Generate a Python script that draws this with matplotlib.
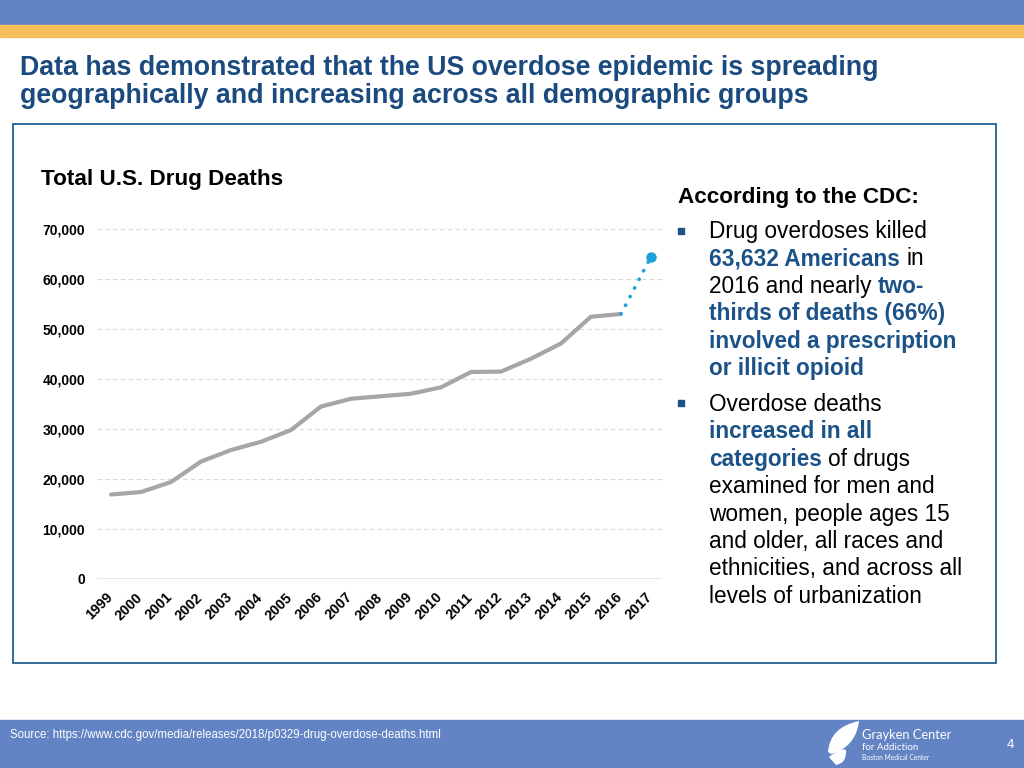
import matplotlib.pyplot as plt
from matplotlib.patches import Rectangle, PathPatch
from matplotlib.path import Path
import matplotlib.transforms as mtransforms

plt.rcParams['font.family'] = ['Liberation Sans', 'DejaVu Sans']

# data
years = list(range(1999, 2017))
deaths = [16900, 17400, 19400, 23500, 25800, 27450, 29800, 34500, 36050,
          36550, 37050, 38330, 41400, 41480, 44050, 47100, 52450, 53000]
proj_years = [2016, 2017]
proj_deaths = [53000, 64400]
all_years = list(range(1999, 2018))
yticks = [0, 10000, 20000, 30000, 40000, 50000, 60000, 70000]

W, H = 1024, 768
BAND = '#6384C4'
ORANGE = '#F6BF5B'
NAVY = '#1A4A7E'
HIGH = '#1B5288'


def fx(x):
    return x / W


def fy(y):
    return 1 - y / H


fig = plt.figure(figsize=(10.24, 7.68), dpi=100)

# header / footer bands
fig.patches.append(Rectangle((0, fy(25)), 1, 25 / H, transform=fig.transFigure,
                             color=BAND, zorder=0))
fig.patches.append(Rectangle((0, fy(37)), 1, 12 / H, transform=fig.transFigure,
                             color=ORANGE, zorder=0))
fig.patches.append(Rectangle((0, 0), 1, 48 / H, transform=fig.transFigure,
                             color=BAND, zorder=0))
# content frame
fig.patches.append(Rectangle((fx(13), fy(663)), 983 / W, 539 / H, transform=fig.transFigure,
                             fill=False, ec='#24608F', lw=1.3, zorder=1))

fig.text(fx(20), fy(75), 'Data has demonstrated that the US overdose epidemic is spreading',
         fontsize=19.3, fontweight='bold', color=NAVY, va='baseline')
fig.text(fx(20), fy(103), 'geographically and increasing across all demographic groups',
         fontsize=19.3, fontweight='bold', color=NAVY, va='baseline')

# chart
ax = fig.add_axes([fx(97), fy(579), 565 / W, 350 / H])
ax.plot(years, deaths, color='#A6A6A6', lw=3, solid_capstyle='round', zorder=3)
ax.plot(proj_years, proj_deaths, color='#1EA0DC', lw=2.6, ls=(0, (0.1, 2.6)),
        dash_capstyle='round', zorder=3)
ax.plot(proj_years[-1:], proj_deaths[-1:], 'o', color='#1EA0DC', ms=6.5, zorder=4)
ax.set_xlim(1998.53, 2017.37)
ax.set_ylim(0, 70000)
for s in ax.spines.values():
    s.set_visible(False)
for v in yticks[1:]:
    ax.axhline(v, color='#D9D9D9', lw=0.8, ls=(0, (4, 3)), zorder=1)
ax.axhline(0, color='#E3E3E3', lw=1.2, zorder=1)
ax.set_yticks(yticks)
ax.set_yticklabels(['{:,}'.format(v) for v in yticks], fontsize=10, fontweight='bold')
ax.set_xticks(all_years)
ax.set_xticklabels([str(y) for y in all_years], fontsize=10.3, fontweight='bold',
                   rotation=45, ha='right', va='top', rotation_mode='anchor')
ax.tick_params(length=0)
ax.tick_params(axis='y', pad=8.5)
ax.tick_params(axis='x', pad=8)
shift = mtransforms.ScaledTranslation(-4 / 72, 0, fig.dpi_scale_trans)
for lab in ax.get_xticklabels():
    lab.set_transform(lab.get_transform() + shift)

fig.text(fx(41), fy(180), 'Total U.S. Drug Deaths', fontsize=16.2, fontweight='bold',
         va='center', color='black')

# right-hand text
fig.text(fx(678), fy(203), 'According to the CDC:', fontsize=16.2, fontweight='bold',
         va='baseline', color='black')

renderer = fig.canvas.get_renderer()


def width_px(s, bold):
    t = fig.text(0, 0, s, fontsize=16.3, fontweight='bold' if bold else 'normal')
    w = t.get_window_extent(renderer).width
    t.remove()
    return w


space_w = width_px('n n', False) - width_px('nn', False)


def rich_line(x, y, segs):
    cx = x
    for k, (s, bold) in enumerate(segs):
        if k > 0:
            cx += space_w
        t = fig.text(fx(cx), fy(y), s, fontsize=16.3,
                     fontweight='bold' if bold else 'normal',
                     color=HIGH if bold else 'black', va='baseline')
        cx += t.get_window_extent(renderer).width


bullet1 = [
    [('Drug overdoses killed', False)],
    [('63,632 Americans', True), ('in', False)],
    [('2016 and nearly', False), ('two-', True)],
    [('thirds of deaths (66%)', True)],
    [('involved a prescription', True)],
    [('or illicit opioid', True)],
]
bullet2 = [
    [('Overdose deaths', False)],
    [('increased in all', True)],
    [('categories', True), ('of drugs', False)],
    [('examined for men and', False)],
    [('women, people ages 15', False)],
    [('and older, all races and', False)],
    [('ethnicities, and across all', False)],
    [('levels of urbanization', False)],
]
for i, segs in enumerate(bullet1):
    rich_line(709, 238 + i * 27.4, segs)
for i, segs in enumerate(bullet2):
    rich_line(709, 411 + i * 27.4, segs)
for by in (231, 403):
    fig.patches.append(Rectangle((fx(678), fy(by + 3)), 6 / W, 6 / H,
                                 transform=fig.transFigure, color=HIGH, zorder=2))

# footer
fig.text(fx(10), fy(735), 'Source: https://www.cdc.gov/media/releases/2018/p0329-drug-overdose-deaths.html',
         fontsize=8.3, color='white', va='center')
fig.text(fx(1010), fy(745), '4', fontsize=9.5, color='white', va='center', ha='center')
fig.text(fx(862), fy(735), 'Grayken Center', fontsize=9.3, color='white', va='center',
         family='Lato')
fig.text(fx(862), fy(747), 'for Addiction', fontsize=7, color='white', va='center',
         family='Lato')
fig.text(fx(862), fy(758), 'Boston Medical Center', fontsize=4.8, color='white', va='center',
         family='Lato')

leaf_big = [(828, 752), (830, 727), (859, 721), (856, 747), (831, 754), (828, 752)]
leaf_small = [(829, 757), (841, 747), (846, 750), (847, 763), (836, 765), (829, 757)]
codes = [Path.MOVETO, Path.CURVE3, Path.CURVE3, Path.CURVE3, Path.CURVE3, Path.CLOSEPOLY]
for pts in (leaf_big, leaf_small):
    verts = [(fx(a), fy(b)) for a, b in pts]
    fig.patches.append(PathPatch(Path(verts, codes), transform=fig.transFigure,
                                 fc='white', ec='none', zorder=2))

fig.savefig('out.png', dpi=100)
